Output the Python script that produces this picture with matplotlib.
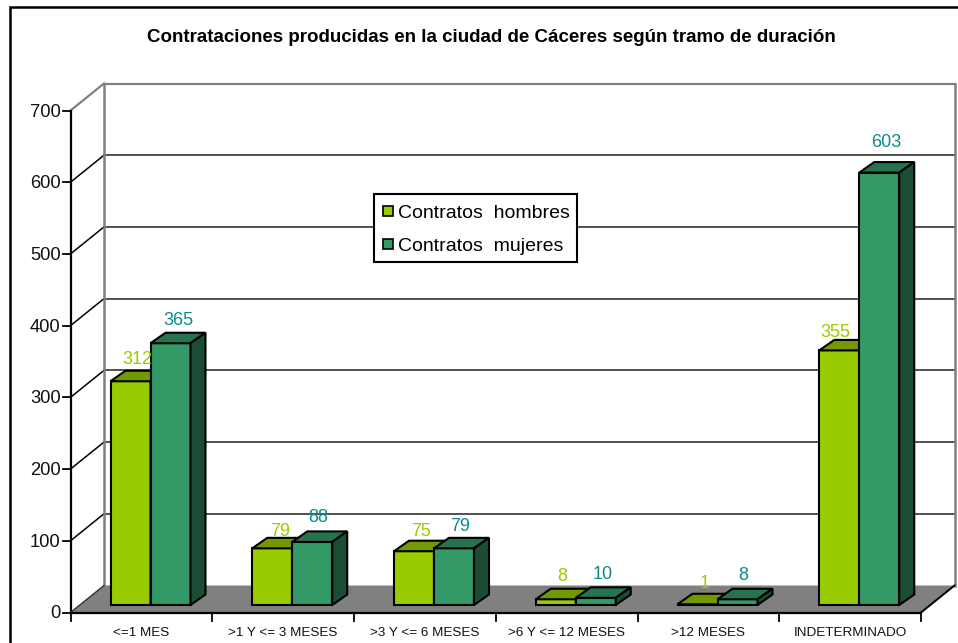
"""
Contrataciones en Caceres por tramo de duracion: fake-3D clustered bars.
The 3D look is just polygons shifted by a fixed pixel depth.
"""
import matplotlib
matplotlib.use("Agg")
import matplotlib.pyplot as plt
from matplotlib.patches import Polygon, Rectangle
from matplotlib.lines import Line2D

plt.rcParams['font.family'] = ['Liberation Sans', 'DejaVu Sans']

categories = ["<=1 MES", ">1 Y <= 3 MESES", ">3 Y <= 6 MESES",
              ">6 Y <= 12 MESES", ">12 MESES", "INDETERMINADO"]
hombres = [312, 79, 75, 8, 1, 355]
mujeres = [365, 88, 79, 10, 8, 603]
yticks = [0, 100, 200, 300, 400, 500, 600, 700]
title = "Contrataciones producidas en la ciudad de Cáceres según tramo de duración"

W, H = 958, 643
# front plane of the chart, in pixels from the top left
X0, X1, Y0, Y1 = 70.5, 921, 612.5, 110.5
WALL_DX, WALL_DY = 33.5, 27    # wall offset behind the front plane
BAR_DX, BAR_DY = 15, 10.5      # depth of one bar
BAR_LIFT = 7.5                 # bars stand this far up the floor
BAR_W = 40.0

# value label placement relative to the bar, in pixels (the original is uneven)
lift_h = [11, 6, 9, 12, 10, 7]
lift_m = [12, 14, 11, 13, 13, 20]
shift_h = [7, 8, 7, 7, 7, -4]
shift_m = [8, 6, 6, 7, 6, 7]

fig = plt.figure(figsize=(W / 100, H / 100), dpi=100)
ax = fig.add_axes([X0 / W, 1 - Y0 / H, (X1 - X0) / W, (Y0 - Y1) / H])
ax.set_xlim(0, len(categories))
ax.set_ylim(0, 700)
ax.axis("off")

px_x = len(categories) / (X1 - X0)   # data units per pixel
px_y = 700 / (Y0 - Y1)
wx, wy = WALL_DX * px_x, WALL_DY * px_y
n = len(categories)

# outer border, only left and top fall inside the picture
fig.add_artist(Rectangle((10 / W, -20 / H), 970 / W, 656 / H, transform=fig.transFigure,
                         fill=False, ec="black", lw=1.8))

# floor, walls and grid
ax.add_patch(Polygon([(0, 0), (n, 0), (n + wx, wy), (wx, wy)], fc="#808080", ec="none",
                     clip_on=False, zorder=1))
for v in yticks[1:]:
    col = "#808080" if v == 700 else "black"
    lw = 1.6 if v == 700 else 1.1
    ax.plot([wx, n + wx], [v + wy, v + wy], color="#808080" if v == 700 else "#222222", lw=lw, clip_on=False, zorder=1.5)
    ax.plot([0, wx], [v, v + wy], color=col, lw=lw, clip_on=False, zorder=1.5)
ax.plot([wx, wx], [wy, 700 + wy], color="#808080", lw=1.8, clip_on=False, zorder=1.6)
ax.plot([n + wx, n + wx], [wy, 700 + wy], color="#808080", lw=1.8, clip_on=False, zorder=1.6)

# axis lines and ticks
ax.plot([0, 0], [0, 700], color="black", lw=1.6, clip_on=False, zorder=2)
ax.plot([0, n], [0, 0], color="black", lw=1.6, clip_on=False, zorder=2)
ax.plot([0, wx], [0, wy], color="#333333", lw=1, clip_on=False, zorder=2)
ax.plot([n, n + wx], [0, wy], color="black", lw=1.4, clip_on=False, zorder=2)
for v in yticks:
    ax.plot([-8 * px_x, 0], [v, v], color="black", lw=1.3, clip_on=False, zorder=2)
    ax.text(-10 * px_x, v - 1.5 * px_y, str(v), ha="right", va="center", fontsize=13.2, color="#111111")
for i in range(n + 1):
    ax.plot([i, i], [0, -8 * px_y], color="black", lw=1.3, clip_on=False, zorder=2)
for i, c in enumerate(categories):
    ax.text(i + 0.5, -20.5 * px_y, c, ha="center", va="center", fontsize=9.7, color="#111111", clip_on=False)


def draw_bar(left, value, front, top, side, order):
    w, dx, dy = BAR_W * px_x, BAR_DX * px_x, BAR_DY * px_y
    b = BAR_LIFT * px_y
    t = b + value
    style = dict(ec="black", lw=1.5, clip_on=False, joinstyle="miter", zorder=order)
    ax.bar(left, value, w, bottom=b, align="edge", color=front, edgecolor="black", linewidth=1.5,
           clip_on=False, zorder=order)
    ax.add_patch(Polygon([(left, t), (left + w, t), (left + w + dx, t + dy), (left + dx, t + dy)],
                         fc=top, **style))
    ax.add_patch(Polygon([(left + w, b), (left + w + dx, b + dy), (left + w + dx, t + dy), (left + w, t)],
                         fc=side, **style))


gap = 40 * px_x
for i in range(n):
    draw_bar(i + gap, hombres[i], "#99CC00", "#739900", "#4D6600", 3)
    draw_bar(i + gap + BAR_W * px_x, mujeres[i], "#339966", "#267350", "#1A4D33", 4)
    rows = ((0, hombres[i], lift_h[i], shift_h[i], "#99CC00"),
            (1, mujeres[i], lift_m[i], shift_m[i], "#0B8C8C"))
    for off, v, lift, shift, col in rows:
        ax.text(i + gap + (off + 0.5) * BAR_W * px_x + shift * px_x,
                v + (BAR_LIFT + BAR_DY + lift) * px_y, str(v),
                ha="center", va="center", fontsize=13, color=col, clip_on=False, zorder=5)

fig.text(491.5 / W, 1 - 38 / H, title, ha="center", va="center", fontsize=13.5, fontweight="bold", color="black")

# legend box drawn apart so its padding can differ between width and height
fig.add_artist(Rectangle((374 / W, 1 - 261.5 / H), 203 / W, 68 / H, transform=fig.transFigure,
                         fc="white", ec="black", lw=1.5, zorder=6))
handles = [Line2D([], [], ls="none", marker="s", ms=7.2, mfc="#99CC00", mec="black", mew=1.2),
           Line2D([], [], ls="none", marker="s", ms=7.2, mfc="#339966", mec="black", mew=1.2)]
leg = fig.legend(handles, ["Contratos  hombres", "Contratos  mujeres"], loc="upper left",
                 bbox_to_anchor=(381 / W, 1 - 204 / H), frameon=False, fontsize=14,
                 borderaxespad=0, borderpad=0, handlelength=0.7, handletextpad=0.18, labelspacing=0.82)
leg.set_zorder(7)

plt.savefig("out.png", dpi=100)
plt.close()
